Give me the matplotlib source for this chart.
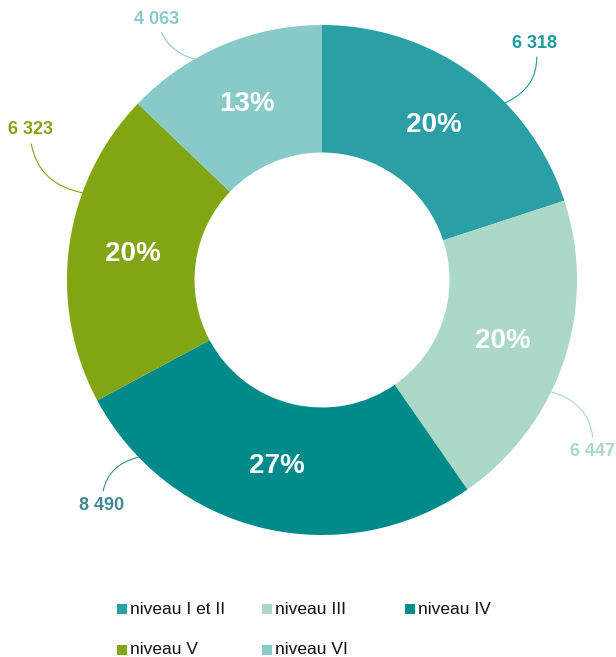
import numpy as np
import matplotlib.pyplot as plt
from matplotlib.patches import Rectangle

categories = ['niveau I et II', 'niveau III', 'niveau IV', 'niveau V', 'niveau VI']
values = [6318, 6447, 8490, 6323, 4063]
value_labels = ['6 318', '6 447', '8 490', '6 323', '4 063']

colors = ['#2a9fa5', '#acd8c8', '#008a8a', '#82a514', '#88cac8']
label_colors = ['#1b9a9c', '#acd8c8', '#3f8a93', '#82a514', '#88cac8']

plt.rcParams['font.family'] = ['Liberation Sans', 'DejaVu Sans']

W, H = 616, 657
fig = plt.figure(figsize=(W / 100, H / 100), dpi=100)
ax = fig.add_axes([0, 0, 1, 1])

cx, cy, R = 322, H - 280, 255
wedges, texts, autotexts = ax.pie(
    values, colors=colors, startangle=90, counterclock=False,
    center=(cx, cy), radius=R, wedgeprops=dict(width=R * 0.5, linewidth=0),
    autopct=lambda p: '%d%%' % round(p), pctdistance=0.75,
    textprops=dict(color='white', fontsize=20, fontweight='bold'))

ax.set_xlim(0, W)
ax.set_ylim(0, H)
ax.set_aspect('equal')
ax.axis('off')

# label text positions (pixel, from top) and the angle where the leader hits the ring
text_pos = [(535, 43), (593, 451), (102, 505), (30, 130), (157, 19)]
hit_angle = [44, -26, -136, 160, 120]
rads = [-0.4, 0.4, -0.4, 0.4, 0.3]
for lab, col, (tx, ty), ang, rad in zip(value_labels, label_colors, text_pos, hit_angle, rads):
    a = np.deg2rad(ang)
    ex, ey = cx + R * np.cos(a), cy + R * np.sin(a)
    ax.annotate(lab, xy=(ex, ey), xytext=(tx, H - ty), ha='center', va='center',
                fontsize=13, fontweight='bold', color=col,
                arrowprops=dict(arrowstyle='-', color=col, lw=0.8,
                                connectionstyle='arc3,rad=%s' % rad, shrinkA=2, shrinkB=0))

# legend drawn by hand: 3 columns, 2 rows
col_x = [117, 262, 405]
row_y = [609, 650]
for i, (cat, c) in enumerate(zip(categories, colors)):
    x0, y0 = col_x[i % 3], row_y[i // 3]
    ax.add_patch(Rectangle((x0, H - y0 - 5), 10, 10, color=c, lw=0))
    ax.text(x0 + 13, H - y0, cat, ha='left', va='center', fontsize=12.5, color='#111111')

fig.savefig('out.png', dpi=100)
